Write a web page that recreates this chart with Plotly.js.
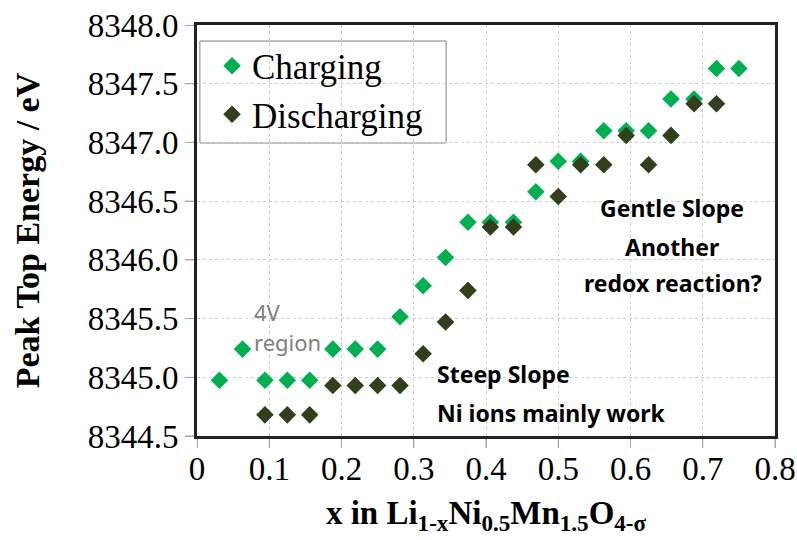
<!DOCTYPE html>
<html>
<head>
<meta charset="utf-8">
<script src="https://cdn.plot.ly/plotly-3.0.1.min.js"></script>
<style>html,body{margin:0;padding:0;background:#fff;}#chart{width:797px;height:540px;}</style>
</head>
<body>
<div id="chart"></div>
<script>
// Charging series (x in Li1-xNi0.5Mn1.5O4-σ, peak top energy / eV)
const chargeX = [0.031, 0.063, 0.094, 0.125, 0.156, 0.188, 0.219, 0.250, 0.281, 0.313, 0.344, 0.375,
                 0.406, 0.438, 0.469, 0.500, 0.531, 0.563, 0.594, 0.625, 0.656, 0.688, 0.719, 0.750];
const chargeY = [8344.975, 8345.24, 8344.975, 8344.975, 8344.975, 8345.24, 8345.24, 8345.24, 8345.515, 8345.78, 8346.02, 8346.32,
                 8346.32, 8346.32, 8346.58, 8346.84, 8346.84, 8347.10, 8347.10, 8347.10, 8347.37, 8347.37, 8347.63, 8347.63];
// Discharging series
const dischargeX = [0.094, 0.125, 0.156, 0.188, 0.219, 0.250, 0.281, 0.313, 0.344, 0.375, 0.406,
                    0.438, 0.469, 0.500, 0.531, 0.563, 0.594, 0.625, 0.656, 0.688, 0.719];
const dischargeY = [8344.68, 8344.68, 8344.68, 8344.93, 8344.93, 8344.93, 8344.93, 8345.20, 8345.47, 8345.74, 8346.28,
                    8346.28, 8346.81, 8346.54, 8346.81, 8346.81, 8347.06, 8346.81, 8347.06, 8347.33, 8347.33];
const seriesNames = ["Charging", "Discharging"];
const xTicks = [0, 0.1, 0.2, 0.3, 0.4, 0.5, 0.6, 0.7, 0.8];
const yTicks = [8344.5, 8345.0, 8345.5, 8346.0, 8346.5, 8347.0, 8347.5, 8348.0];

const serif = "Liberation Serif, Times New Roman, serif";
const sans = "Noto Sans, Open Sans, sans-serif";

const traces = [
  {x: chargeX, y: chargeY, name: seriesNames[0], type: "scatter", mode: "markers",
   marker: {symbol: "diamond", size: 13.5, color: "#00B050"}},
  {x: dischargeX, y: dischargeY, name: seriesNames[1], type: "scatter", mode: "markers",
   marker: {symbol: "diamond", size: 13.5, color: "#323F1C"}}
];

// decorations: legend box, plot frame, tick marks (tick marks placed on the library's axes)
const shapes = [
  {type: "rect", xref: "paper", yref: "paper", x0: 0.005, x1: 0.431, y0: 0.713, y1: 0.961,
   layer: "between", fillcolor: "#ffffff", line: {color: "#808080", width: 1}},
  {type: "rect", xref: "paper", yref: "paper", x0: -0.0026, x1: 1.0026, y0: -0.00365, y1: 1.00365,
   layer: "between", fillcolor: "rgba(0,0,0,0)", line: {color: "#222222", width: 3}}
];
xTicks.forEach(v => shapes.push({type: "line", xref: "x", yref: "paper", x0: v, x1: v, y0: -0.0073, y1: -0.0292,
  layer: "between", line: {color: "#a6a6a6", width: 1}}));
yTicks.forEach(v => shapes.push({type: "line", xref: "paper", yref: "y", x0: -0.0052, x1: -0.0208, y0: v, y1: v,
  layer: "between", line: {color: "#a6a6a6", width: 1}}));

const layout = {
  width: 797, height: 540,
  margin: {l: 197, r: 22, t: 25, b: 104},
  showlegend: true,
  legend: {x: 0.026, y: 0.972, xanchor: "left", yanchor: "top",
           borderwidth: 0, bgcolor: "rgba(255,255,255,0)",
           font: {family: serif, size: 35, color: "#000"}},
  shapes: shapes,
  xaxis: {
    range: [0, 0.8], tickmode: "array", tickvals: xTicks, ticktext: xTicks.map(v => String(v)),
    showgrid: true, gridcolor: "#cfcfcf", gridwidth: 1, griddash: "dot",
    ticks: "outside", ticklen: 9, tickcolor: "#a6a6a6", tickwidth: 1, ticklabelstandoff: -8,
    showline: true, linecolor: "#222222", linewidth: 3, mirror: true, zeroline: false,
    tickfont: {family: serif, size: 33, color: "#000"},
    title: {text: "x in Li<sub>1-x</sub>Ni<sub>0.5</sub>Mn<sub>1.5</sub>O<sub>4-σ</sub>",
            font: {family: serif, size: 33, color: "#000", weight: "bold"}, standoff: 16}
  },
  yaxis: {
    range: [8344.5, 8348.0], tickmode: "array", tickvals: yTicks, ticktext: yTicks.map(v => v.toFixed(1)),
    showgrid: true, gridcolor: "#cfcfcf", gridwidth: 1, griddash: "dot",
    ticks: "outside", ticklen: 9, tickcolor: "#a6a6a6", tickwidth: 1,
    showline: true, linecolor: "#222222", linewidth: 3, mirror: true, zeroline: false,
    tickfont: {family: serif, size: 33, color: "#000"},
    title: {text: "Peak Top Energy / eV",
            font: {family: serif, size: 34, color: "#000", weight: "bold"}, standoff: 38}
  },
  annotations: [
    {x: 0.076, y: 8345.555, xref: "x", yref: "y", text: "4V", showarrow: false, xanchor: "left", yanchor: "middle",
     font: {family: sans, size: 22, color: "#808080"}},
    {x: 0.076, y: 8345.30, xref: "x", yref: "y", text: "region", showarrow: false, xanchor: "left", yanchor: "middle",
     font: {family: sans, size: 22, color: "#808080"}},
    {x: 0.329, y: 8345.027, xref: "x", yref: "y", text: "Steep Slope", showarrow: false, xanchor: "left", yanchor: "middle",
     font: {family: sans, size: 23, color: "#000", weight: "bold"}},
    {x: 0.329, y: 8344.70, xref: "x", yref: "y", text: "Ni ions mainly work", showarrow: false, xanchor: "left", yanchor: "middle",
     font: {family: sans, size: 23, color: "#000", weight: "bold"}},
    {x: 0.657, y: 8346.44, xref: "x", yref: "y", text: "Gentle Slope", showarrow: false, xanchor: "center", yanchor: "middle",
     font: {family: sans, size: 23, color: "#000", weight: "bold"}},
    {x: 0.657, y: 8346.11, xref: "x", yref: "y", text: "Another", showarrow: false, xanchor: "center", yanchor: "middle",
     font: {family: sans, size: 23, color: "#000", weight: "bold"}},
    {x: 0.659, y: 8345.80, xref: "x", yref: "y", text: "redox reaction?", showarrow: false, xanchor: "center", yanchor: "middle",
     font: {family: sans, size: 23, color: "#000", weight: "bold"}}
  ]
};

Plotly.newPlot("chart", traces, layout, {displayModeBar: false});
</script>
</body>
</html>
